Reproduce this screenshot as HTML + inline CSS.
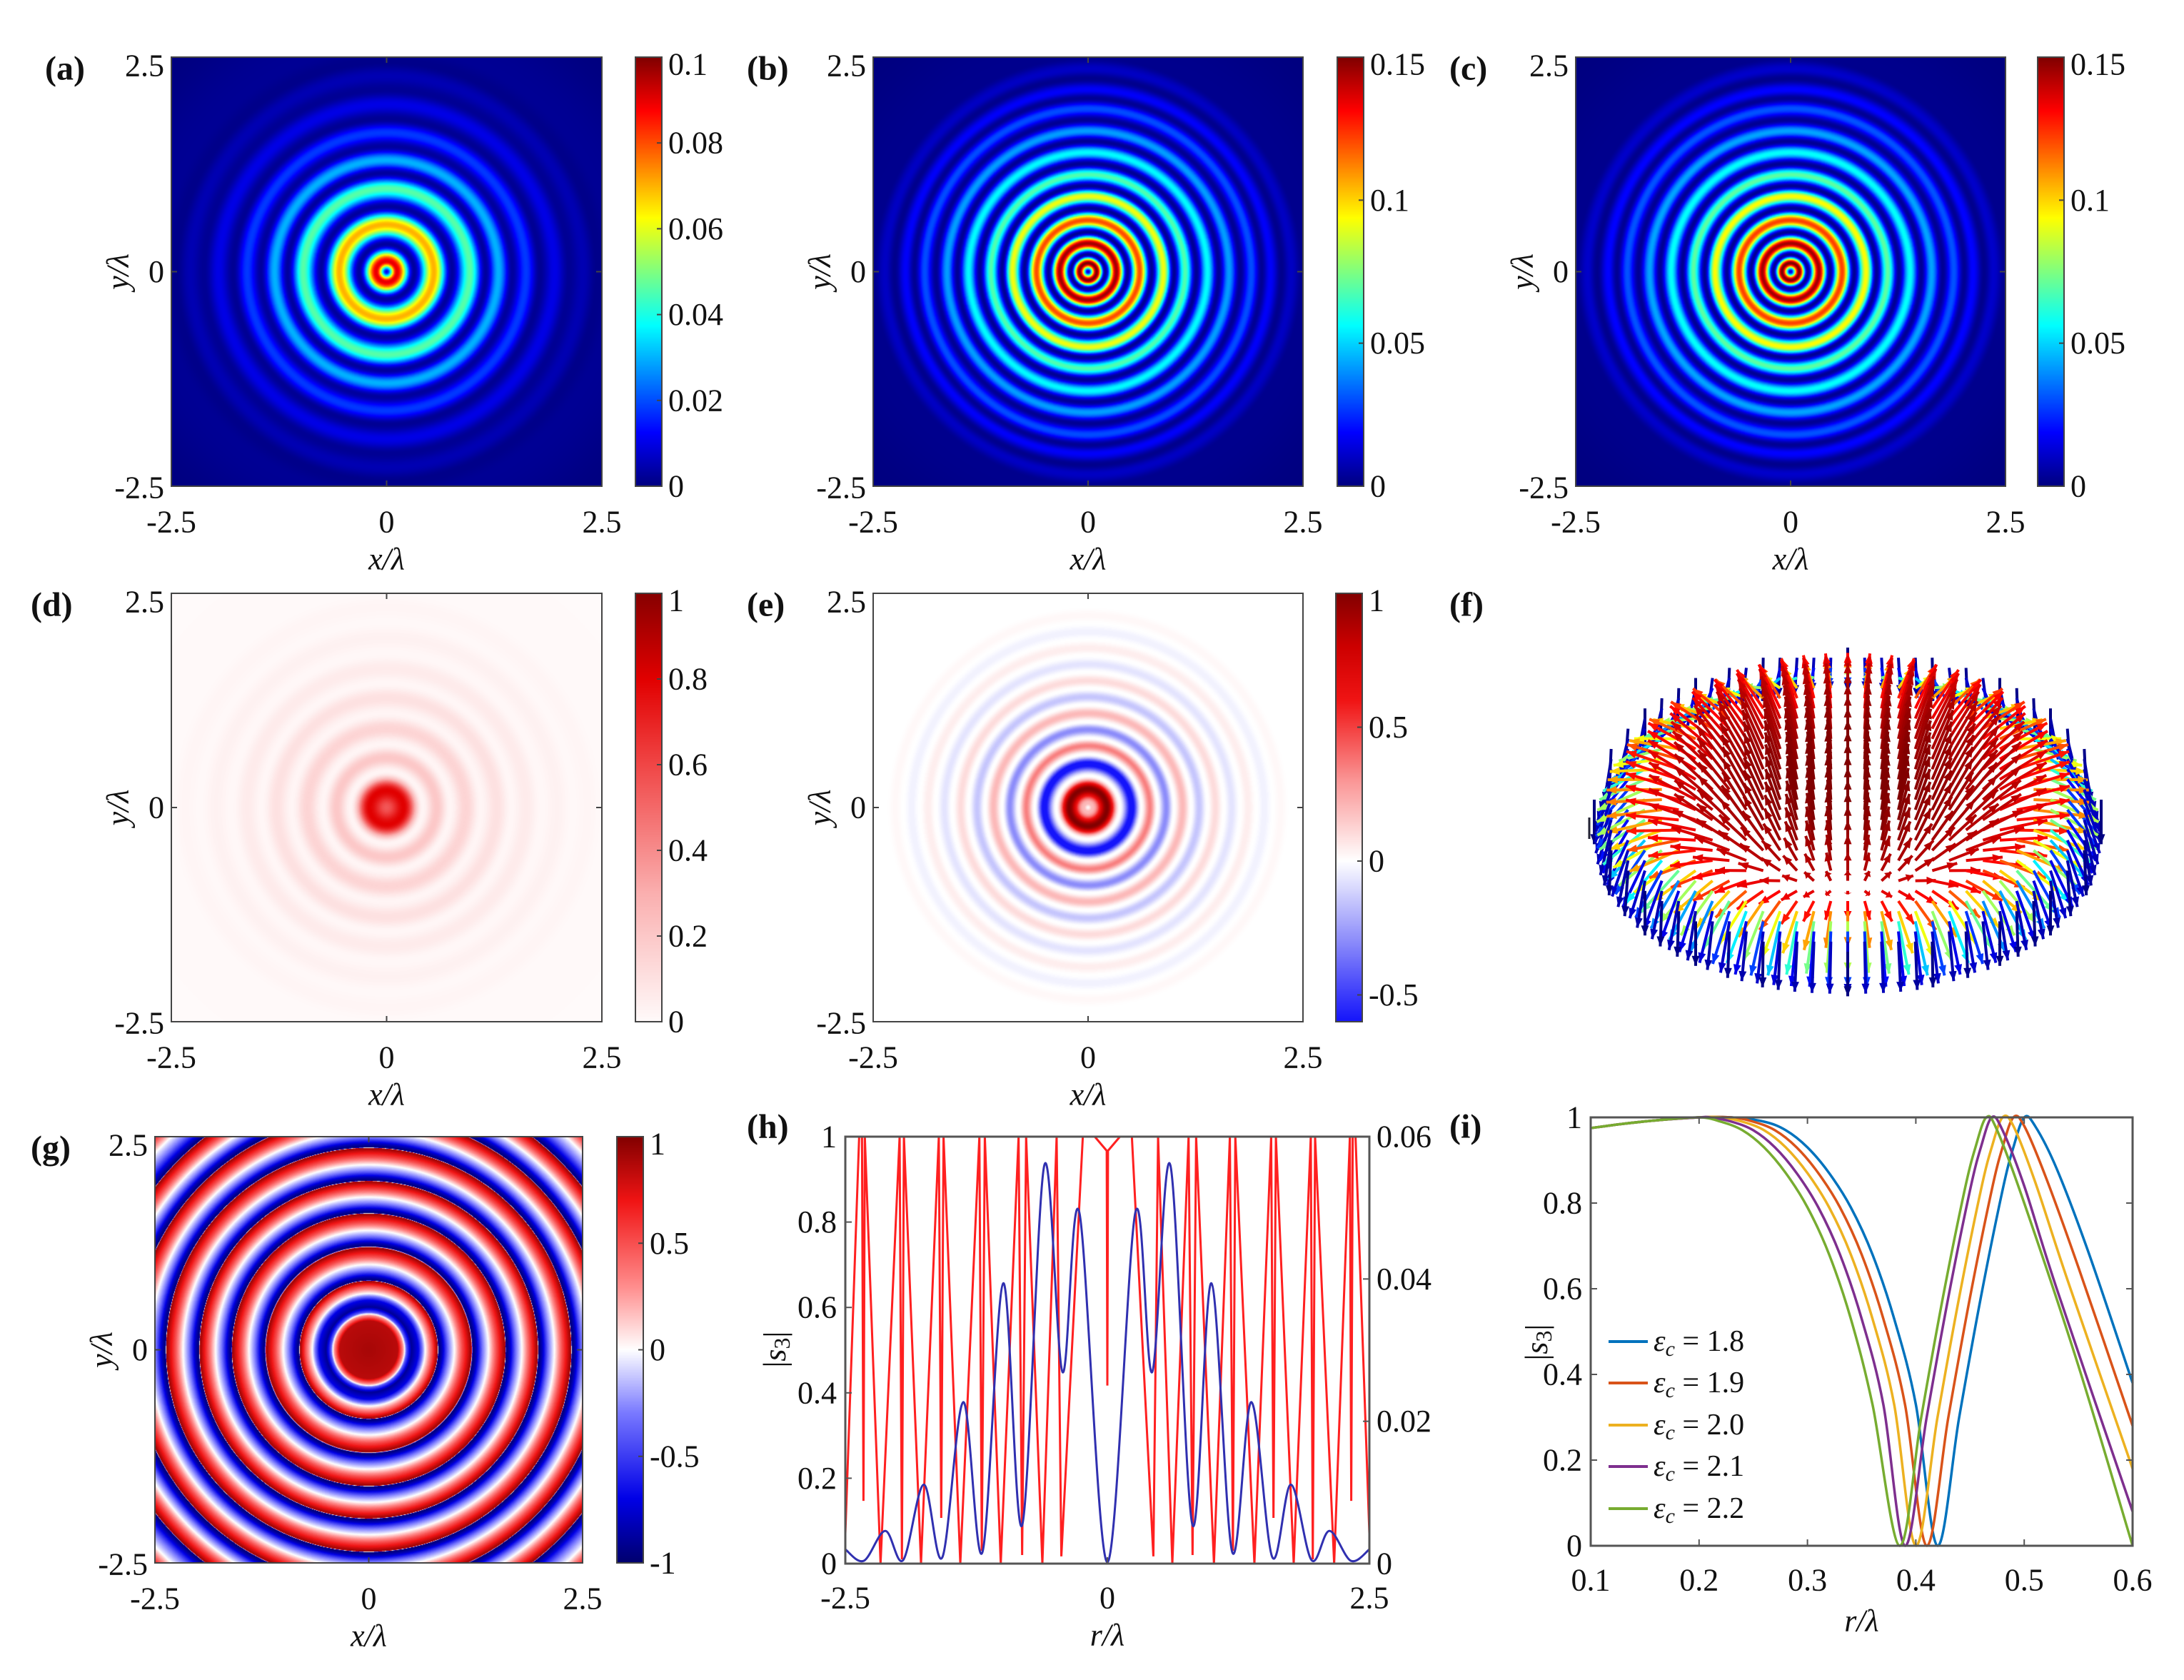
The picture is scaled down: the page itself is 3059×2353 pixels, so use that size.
<!DOCTYPE html>
<html><head><meta charset="utf-8">
<style>
body{margin:0;background:#fff;width:3059px;height:2353px;overflow:hidden;position:relative;font-family:"Liberation Serif","DejaVu Serif",serif}
canvas{position:absolute;z-index:1}
#fig{position:absolute;left:0;top:0;z-index:2}
#fig text{font-family:"Liberation Serif","DejaVu Serif",serif}
</style></head>
<body>
<svg id="fig" width="3059" height="2353"></svg>
<script>
// ---------- DATA ----------
const aR=[0,0.12,0.32,0.55,0.76,0.97,1.15,1.3,1.46,1.62,1.78,1.95,2.12,2.28,2.45,2.62,3.6];
const aV=[0.012,0.09,0.003,0.07,0.003,0.046,0.003,0.03,0.003,0.018,0.002,0.01,0.002,0.005,0.001,0.002,0];
const bR=[0,0.1,0.2,0.33,0.46,0.6,0.74,0.88,1.0,1.13,1.26,1.39,1.52,1.64,1.77,1.9,2.02,2.12,2.25,2.36,2.5,3.6];
const bV=[0.012,0.15,0.003,0.145,0.003,0.12,0.003,0.092,0.003,0.068,0.003,0.056,0.003,0.042,0.003,0.03,0.003,0.018,0.002,0.01,0.002,0];
const cR=[0,0.1,0.2,0.33,0.46,0.6,0.74,0.88,1.0,1.13,1.26,1.39,1.52,1.64,1.77,1.9,2.02,2.12,2.25,2.36,2.5,3.6];
const cV=[0.012,0.15,0.003,0.145,0.003,0.122,0.003,0.094,0.003,0.07,0.003,0.057,0.003,0.043,0.003,0.031,0.003,0.019,0.002,0.011,0.002,0];
const dR=[0,0.2,0.42,0.58,0.74,0.92,1.1,1.28,1.45,1.62,1.8,1.98,2.16,2.34,2.5,3.6];
const dV=[0.55,0.8,0.02,0.2,0.02,0.15,0.02,0.1,0.015,0.06,0.01,0.035,0.008,0.02,0.005,0];
const eR=[0,0.05,0.22,0.37,0.51,0.62,0.72,0.81,0.91,1.0,1.1,1.2,1.29,1.39,1.48,1.58,1.67,1.77,1.86,1.96,2.05,2.15,2.24,2.34,2.5,3.6];
const eV=[0.02,0.2,1.0,0,-0.65,0,0.35,0,-0.3,0,0.2,0,-0.15,0,0.1,0,-0.07,0,0.05,0,-0.035,0,0.02,0,0,0];
const gR=[0,0.34,0.4,0.42,0.44,0.5,0.58,0.66,0.74,0.805,
 0.815,0.86,0.93,1.0,1.09,1.2,
 1.215,1.26,1.33,1.4,1.49,1.595,
 1.605,1.65,1.72,1.79,1.88,1.975,
 1.985,2.03,2.1,2.17,2.26,2.365,
 2.375,2.42,2.49,2.56,2.65,2.75,
 2.76,2.81,2.88,2.95,3.04,3.14,
 3.15,3.2,3.3,3.4,3.5,3.6];
const gV=[0.9,0.85,0.3,0,-0.4,-0.9,-0.7,0,0.5,0.95,
 -1,-0.8,-0.3,0,0.5,0.95,
 -1,-0.8,-0.3,0,0.5,0.95,
 -1,-0.8,-0.3,0,0.5,0.95,
 -1,-0.8,-0.3,0,0.5,0.95,
 -1,-0.8,-0.3,0,0.5,0.95,
 -1,-0.8,-0.3,0,0.5,0.95,
 -1,-0.8,-0.3,0,0.5,0.95];
const aCbTicks=[0,0.02,0.04,0.06,0.08,0.1];
const aCbLabels=['0','0.02','0.04','0.06','0.08','0.1'];
const bCbTicks=[0,0.05,0.1,0.15];
const bCbLabels=['0','0.05','0.1','0.15'];
const dCbTicks=[0,0.2,0.4,0.6,0.8,1];
const dCbLabels=['0','0.2','0.4','0.6','0.8','1'];
const eCbTicks=[-0.5,0,0.5,1];
const eCbLabels=['-0.5','0','0.5','1'];
const gCbTicks=[-1,-0.5,0,0.5,1];
const gCbLabels=['-1','-0.5','0','0.5','1'];
const mapTicks=[-2.5,0,2.5];
const mapTickLabels=['-2.5','0','2.5'];
const fRho=[0,0.2,0.4,0.55,0.7,0.8,0.88,1];
const fTheta=[0,10,25,45,80,120,150,180];
const fColor=[1,1,0.97,0.94,0.85,0.55,0.12,0.0];
const hBlueR=[-2.5,-2.323,-2.119,-1.948,-1.751,-1.574,-1.374,-1.192,-0.993,-0.813,-0.601,-0.427,-0.268,0,0.268,0.427,0.601,0.813,0.993,1.192,1.374,1.574,1.751,1.948,2.119,2.323,2.5];
const hBlueV=[0.0020,0.0004,0.0046,0.0005,0.0111,0.0009,0.0227,0.0016,0.0394,0.0054,0.0560,0.0269,0.0494,0.0002,0.0494,0.0269,0.0560,0.0054,0.0394,0.0016,0.0227,0.0009,0.0111,0.0005,0.0046,0.0004,0.0020];
const hRedR=[-2.5,-2.368,-2.341,-2.327,-2.314,-2.164,-1.982,-1.96,-1.941,-1.778,-1.608,-1.585,-1.563,-1.403,-1.221,-1.198,-1.169,-1.017,-0.847,-0.813,-0.775,-0.62,-0.484,-0.439,-0.234,-0.12,-0.006,0,0.006,0.12,0.234,0.439,0.484,0.62,0.775,0.813,0.847,1.017,1.169,1.198,1.221,1.403,1.563,1.585,1.608,1.778,1.941,1.96,1.982,2.164,2.314,2.327,2.341,2.368,2.5];
const hRedV=[0.07,1,1,0.147,1,0,1,0.01,1,0,1,0.107,1,0,1,0.03,1,0,1,0.02,1,0,1,0.017,1,1,0.967,0.417,0.967,1,1,0.017,1,0,1,0.02,1,0,1,0.03,1,0,1,0.107,1,0,1,0.01,1,0,1,0.147,1,1,0.07];
const hLeftTicks=[0,0.2,0.4,0.6,0.8,1];
const hLeftLabels=['0','0.2','0.4','0.6','0.8','1'];
const hRightTicks=[0,0.02,0.04,0.06];
const hRightLabels=['0','0.02','0.04','0.06'];
const iNames=['1.8','1.9','2.0','2.1','2.2'];
const iColors=['#0072BD','#D95319','#EDB120','#7E2F8E','#77AC30'];
const iX18=[0.1,0.13,0.16,0.2,0.23,0.26,0.28,0.3,0.32,0.34,0.36,0.38,0.4,0.42,0.44,0.46,0.48,0.49,0.5,0.51,0.53,0.56,0.6];
const iY18=[0.975,0.985,0.993,1,1,0.99,0.97,0.93,0.87,0.79,0.68,0.53,0.33,0,0.3,0.58,0.83,0.93,1,0.98,0.88,0.68,0.38];
const iX19=[0.1,0.13,0.16,0.2,0.23,0.25,0.27,0.29,0.31,0.33,0.35,0.37,0.39,0.41,0.43,0.45,0.47,0.48,0.49,0.5,0.52,0.55,0.6];
const iY19=[0.975,0.985,0.993,1,1,0.99,0.97,0.93,0.87,0.79,0.68,0.53,0.33,0,0.3,0.58,0.83,0.93,1,0.98,0.86,0.65,0.28];
const iX20=[0.1,0.13,0.16,0.2,0.22,0.24,0.26,0.28,0.3,0.32,0.34,0.36,0.38,0.4,0.42,0.44,0.46,0.47,0.48,0.49,0.51,0.54,0.6];
const iY20=[0.975,0.985,0.993,1,1,0.99,0.97,0.93,0.87,0.79,0.68,0.53,0.33,0,0.3,0.58,0.83,0.93,1,0.98,0.85,0.62,0.18];
const iX21=[0.1,0.13,0.16,0.2,0.21,0.23,0.25,0.27,0.29,0.31,0.33,0.35,0.37,0.39,0.41,0.43,0.45,0.46,0.47,0.48,0.5,0.53,0.6];
const iY21=[0.975,0.985,0.993,1,1,0.99,0.97,0.93,0.87,0.79,0.68,0.53,0.33,0,0.3,0.58,0.83,0.93,1,0.97,0.84,0.6,0.08];
const iX22=[0.1,0.13,0.16,0.2,0.22,0.24,0.26,0.28,0.3,0.32,0.34,0.36,0.385,0.405,0.425,0.445,0.455,0.465,0.475,0.5,0.55,0.6];
const iY22=[0.975,0.985,0.993,1,0.99,0.97,0.93,0.87,0.79,0.68,0.53,0.33,0,0.3,0.58,0.83,0.93,1,0.97,0.8,0.42,0];
const iXTicks=[0.1,0.2,0.3,0.4,0.5,0.6];
const iXLabels=['0.1','0.2','0.3','0.4','0.5','0.6'];
const iYTicks=[0,0.2,0.4,0.6,0.8,1];
const iYLabels=['0','0.2','0.4','0.6','0.8','1'];

// ---------- HELPERS ----------
const NS='http://www.w3.org/2000/svg';
const svg=document.getElementById('fig');
function mk(tag,attrs,parent){const e=document.createElementNS(NS,tag);for(const k in attrs)e.setAttribute(k,attrs[k]);(parent||svg).appendChild(e);return e;}
function label(x,y,s,anchor,name,extra){
  const t=mk('text',Object.assign({x:x,y:y,'font-size':44,'text-anchor':anchor||'middle','dominant-baseline':'central',fill:'#111'},extra||{}));
  t.textContent=s;
  
  
  return t;
}
function clamp(v){return Math.max(0,Math.min(1,v));}
function jet(t){t=clamp(t);return [255*clamp(1.5-Math.abs(4*t-3)),255*clamp(1.5-Math.abs(4*t-2)),255*clamp(1.5-Math.abs(4*t-1))];}
function stopsMap(st){return function(v){
  if(v<=st[0][0])return st[0].slice(1);
  for(let i=0;i<st.length-1;i++){if(v<=st[i+1][0]){const t=(v-st[i][0])/(st[i+1][0]-st[i][0]);return [0,1,2].map(k=>st[i][k+1]+(st[i+1][k+1]-st[i][k+1])*t);}}
  return st[st.length-1].slice(1);};}
const mapD=stopsMap([[0,255,250,250],[0.3,250,175,175],[0.6,240,70,70],[0.8,225,0,0],[1,135,0,0]]);
const mapE=stopsMap([[-0.6,20,20,250],[-0.3,140,140,250],[0,255,255,255],[0.3,250,150,150],[0.6,240,20,20],[0.8,205,0,0],[1,130,0,0]]);
const mapG=stopsMap([[-1,0,0,110],[-0.7,0,0,230],[-0.3,120,120,255],[0,255,255,255],[0.3,255,140,140],[0.7,240,20,20],[1,130,0,0]]);
function buildLut(R,V,smooth){
  const n=1801,lut=new Float32Array(n);let k=0;
  for(let i=0;i<n;i++){const r=i*0.002;
    while(k<R.length-2&&r>R[k+1])k++;
    if(r>=R[R.length-1]){lut[i]=V[V.length-1];continue;}
    let t=clamp((r-R[k])/(R[k+1]-R[k]));
    if(smooth)t=(1-Math.cos(Math.PI*t))/2;
    lut[i]=V[k]+(V[k+1]-V[k])*t;}
  return lut;}
function colorOf(p,v){return p.map==='jet'?jet((v-p.vmin)/(p.vmax-p.vmin)):p.map(v);}

// ---------- HEATMAP PANELS ----------
const heatPanels=[
 {id:'a',x:240,y:80,w:603,h:601,R:aR,V:aV,map:'jet',vmin:0,vmax:0.1,smooth:true,cbx:890,cbT:aCbTicks,cbL:aCbLabels,lab:'(a)',lx:63},
 {id:'b',x:1223,y:80,w:602,h:601,R:bR,V:bV,map:'jet',vmin:0,vmax:0.15,smooth:true,cbx:1873,cbT:bCbTicks,cbL:bCbLabels,lab:'(b)',lx:1046},
 {id:'c',x:2207,y:80,w:602,h:601,R:cR,V:cV,map:'jet',vmin:0,vmax:0.15,smooth:true,cbx:2854,cbT:bCbTicks,cbL:bCbLabels,lab:'(c)',lx:2030},
 {id:'d',x:240,y:831,w:603,h:600,R:dR,V:dV,map:mapD,vmin:0,vmax:1,smooth:true,cbx:890,cbT:dCbTicks,cbL:dCbLabels,lab:'(d)',lx:43},
 {id:'e',x:1223,y:831,w:602,h:600,R:eR,V:eV,map:mapE,vmin:-0.6,vmax:1,smooth:true,cbx:1871,cbT:eCbTicks,cbL:eCbLabels,lab:'(e)',lx:1046},
 {id:'g',x:217,y:1592,w:599,h:597,R:gR,V:gV,map:mapG,vmin:-1,vmax:1,smooth:false,cbx:864,cbT:gCbTicks,cbL:gCbLabels,lab:'(g)',lx:43}
];
heatPanels.forEach(p=>{
  const cv=document.createElement('canvas');cv.width=p.w;cv.height=p.h;
  cv.style.left=p.x+'px';cv.style.top=p.y+'px';
  
  
  document.body.appendChild(cv);
  const ctx=cv.getContext('2d');const img=ctx.createImageData(p.w,p.h);
  const lut=buildLut(p.R,p.V,p.smooth);
  for(let j=0;j<p.h;j++){const yy=2.5-5*(j+0.5)/p.h;
    for(let i=0;i<p.w;i++){const xx=-2.5+5*(i+0.5)/p.w;
      const r=Math.sqrt(xx*xx+yy*yy);const v=lut[Math.min(1800,Math.round(r/0.002))];
      const c=colorOf(p,v);const o=(j*p.w+i)*4;
      img.data[o]=c[0];img.data[o+1]=c[1];img.data[o+2]=c[2];img.data[o+3]=255;}}
  ctx.putImageData(img,0,0);
  const cb=document.createElement('canvas');cb.width=37;cb.height=p.h;
  cb.style.left=p.cbx+'px';cb.style.top=p.y+'px';
  
  
  document.body.appendChild(cb);
  const cc=cb.getContext('2d');
  for(let j=0;j<p.h;j++){const v=p.vmax-(j+0.5)/p.h*(p.vmax-p.vmin);const c=colorOf(p,v);
    cc.fillStyle='rgb('+Math.round(c[0])+','+Math.round(c[1])+','+Math.round(c[2])+')';cc.fillRect(0,j,37,1);}
  const fr=mk('rect',{x:p.x,y:p.y,width:p.w,height:p.h,fill:'none',stroke:'#444','stroke-width':2});
  
  
  const cbf=mk('rect',{x:p.cbx,y:p.y,width:37,height:p.h,fill:'none',stroke:'#444','stroke-width':2});
  
  
  const sx=v=>p.x+(v+2.5)/5*p.w, sy=v=>p.y+(2.5-v)/5*p.h;
  mapTicks.forEach((v,k)=>{
    mk('line',{x1:sx(v),y1:p.y+p.h,x2:sx(v),y2:p.y+p.h-8,stroke:'#444','stroke-width':2});
    mk('line',{x1:sx(v),y1:p.y,x2:sx(v),y2:p.y+8,stroke:'#444','stroke-width':2});
    mk('line',{x1:p.x,y1:sy(v),x2:p.x+8,y2:sy(v),stroke:'#444','stroke-width':2});
    mk('line',{x1:p.x+p.w,y1:sy(v),x2:p.x+p.w-8,y2:sy(v),stroke:'#444','stroke-width':2});
    label(sx(v),p.y+p.h+50,mapTickLabels[k],'middle','x-tick-label-'+p.id);
    label(p.x-10,sy(v)+(k===2?12:(k===0?2:0)),mapTickLabels[k],'end','y-tick-label-'+p.id);
  });
  const cy=v=>p.y+(p.vmax-v)/(p.vmax-p.vmin)*p.h;
  p.cbT.forEach((v,k)=>{
    mk('line',{x1:p.cbx+37,y1:cy(v),x2:p.cbx+30,y2:cy(v),stroke:'#444','stroke-width':2});
    label(p.cbx+46,cy(v)+(k===p.cbT.length-1&&v===p.vmax?10:0),p.cbL[k],'start','colorbar-tick-label-'+p.id);
  });
  label(p.x+p.w/2,p.y+p.h+102,'x/λ','middle','x-axis-title-'+p.id,{'font-style':'italic'});
  label(0,0,'y/λ','middle','y-axis-title-'+p.id,{'font-style':'italic',transform:'translate('+(p.x-75)+','+(p.y+p.h/2)+') rotate(-90)'});
  label(p.lx,p.y+16,p.lab,'start','panel-label-'+p.id,{'font-weight':'bold','font-size':48});
});

// ---------- PANEL (f) quiver ----------
label(2030,847,'(f)','start','panel-label-f',{'font-weight':'bold','font-size':48});
const fg=mk('g',{});


function interp(X,Y,x){if(x<=X[0])return Y[0];for(let i=0;i<X.length-1;i++){if(x<=X[i+1]){const t=(x-X[i])/(X[i+1]-X[i]);return Y[i]+(Y[i+1]-Y[i])*t;}}return Y[Y.length-1];}
const F_N=15,F_CX=2588,F_CY=1120,F_S=355,F_SE=0.6,F_CE=0.8,F_L=78;
for(let j=F_N;j>=-F_N;j--){for(let i=-F_N;i<=F_N;i++){
  const X=i/F_N,Y=j/F_N,rho=Math.hypot(X,Y);if(rho>1.0001)continue;
  const th=interp(fRho,fTheta,rho)*Math.PI/180,ph=Math.atan2(Y,X);
  const vx=Math.sin(th)*Math.cos(ph),vy=Math.sin(th)*Math.sin(ph),vz=Math.cos(th);
  const x0=F_CX+F_S*X,y0=F_CY-F_S*F_SE*Y;
  const dx=F_L*vx,dy=-F_L*(vy*F_SE+vz*F_CE);
  const c=jet(interp(fRho,fColor,rho));const col='rgb('+c.map(Math.round).join(',')+')';
  const len=Math.hypot(dx,dy);
  const ar=mk('g',{},fg);
  
  
  mk('line',{x1:x0,y1:y0,x2:x0+dx,y2:y0+dy,stroke:col,'stroke-width':4},ar);
  if(len>4){const ux=dx/len,uy=dy/len,hl=Math.min(14,len*0.45);
    const bx=x0+dx-ux*hl,by=y0+dy-uy*hl;
    mk('polygon',{points:(x0+dx)+','+(y0+dy)+' '+(bx-uy*5.5)+','+(by+ux*5.5)+' '+(bx+uy*5.5)+','+(by-ux*5.5),fill:col},ar);}
}}
const fm=mk('line',{x1:2226,y1:1145,x2:2226,y2:1175,stroke:'#223','stroke-width':3});



function crPath(pts){let d='M'+pts[0][0]+','+pts[0][1];
  for(let i=0;i<pts.length-1;i++){const p0=pts[Math.max(0,i-1)],p1=pts[i],p2=pts[i+1],p3=pts[Math.min(pts.length-1,i+2)];
    d+=' C'+(p1[0]+(p2[0]-p0[0])/6)+','+(p1[1]+(p2[1]-p0[1])/6)+' '+(p2[0]-(p3[0]-p1[0])/6)+','+(p2[1]-(p3[1]-p1[1])/6)+' '+p2[0]+','+p2[1];}
  return d;}

// ---------- PANEL (h) ----------
const H={x:1184,y:1592,w:734,h:598};
const hx=v=>H.x+(v+2.5)/5*H.w, hyL=v=>H.y+H.h-v*H.h, hyR=v=>H.y+H.h-v/0.06*H.h;
const hred=mk('polyline',{points:hRedR.map((r,k)=>hx(r)+','+hyL(hRedV[k])).join(' '),fill:'none',stroke:'#ff2020','stroke-width':3});


const hblue=mk('path',{d:crPath(hBlueR.map((r,k)=>[hx(r),hyR(hBlueV[k])])),fill:'none',stroke:'#3030b0','stroke-width':3});


const hf=mk('rect',{x:H.x,y:H.y,width:H.w,height:H.h,fill:'none',stroke:'#555','stroke-width':3});


hLeftTicks.forEach((v,k)=>{mk('line',{x1:H.x,y1:hyL(v),x2:H.x+9,y2:hyL(v),stroke:'#555','stroke-width':2});
  label(H.x-12,hyL(v),hLeftLabels[k],'end','h-left-tick-label');});
hRightTicks.forEach((v,k)=>{mk('line',{x1:H.x+H.w,y1:hyR(v),x2:H.x+H.w-9,y2:hyR(v),stroke:'#555','stroke-width':2});
  label(H.x+H.w+10,hyR(v),hRightLabels[k],'start','h-right-tick-label');});
mapTicks.forEach((v,k)=>{mk('line',{x1:hx(v),y1:H.y+H.h,x2:hx(v),y2:H.y+H.h-9,stroke:'#555','stroke-width':2});
  label(hx(v),H.y+H.h+48,mapTickLabels[k],'middle','h-x-tick-label');});
label(H.x+H.w/2,H.y+H.h+100,'r/λ','middle','h-x-axis-title',{'font-style':'italic'});
const hyt=mk('text',{transform:'translate(1085,1890) rotate(-90)','font-size':44,'text-anchor':'middle','dominant-baseline':'central',fill:'#111'});
hyt.innerHTML='|<tspan font-style="italic">s</tspan><tspan font-size="32" dy="10">3</tspan><tspan dy="-10">|</tspan>';


label(1046,1578,'(h)','start','panel-label-h',{'font-weight':'bold','font-size':48});

// ---------- PANEL (i) ----------
const I={x:2228,y:1565,w:759,h:600};
const ix=v=>I.x+(v-0.1)/0.5*I.w, iy=v=>I.y+I.h-v*I.h;
const iXs=[iX18,iX19,iX20,iX21,iX22], iYs=[iY18,iY19,iY20,iY21,iY22];
iXs.forEach((X,s)=>{const pl=mk('path',{d:crPath(X.map((x,k)=>[ix(x),iy(iYs[s][k])])),fill:'none',stroke:iColors[s],'stroke-width':3.5,'stroke-linejoin':'round'});
  
  });
const ifr=mk('rect',{x:I.x,y:I.y,width:I.w,height:I.h,fill:'none',stroke:'#555','stroke-width':3});


iXTicks.forEach((v,k)=>{mk('line',{x1:ix(v),y1:I.y+I.h,x2:ix(v),y2:I.y+I.h-9,stroke:'#555','stroke-width':2});
  mk('line',{x1:ix(v),y1:I.y,x2:ix(v),y2:I.y+9,stroke:'#555','stroke-width':2});
  label(ix(v),I.y+I.h+48,iXLabels[k],'middle','i-x-tick-label');});
iYTicks.forEach((v,k)=>{mk('line',{x1:I.x,y1:iy(v),x2:I.x+9,y2:iy(v),stroke:'#555','stroke-width':2});
  mk('line',{x1:I.x+I.w,y1:iy(v),x2:I.x+I.w-9,y2:iy(v),stroke:'#555','stroke-width':2});
  label(I.x-12,iy(v),iYLabels[k],'end','i-y-tick-label');});
label(I.x+I.w/2,I.y+I.h+105,'r/λ','middle','i-x-axis-title',{'font-style':'italic'});
const iyt=mk('text',{transform:'translate(2152,1880) rotate(-90)','font-size':44,'text-anchor':'middle','dominant-baseline':'central',fill:'#111'});
iyt.innerHTML='|<tspan font-style="italic">s</tspan><tspan font-size="32" dy="10">3</tspan><tspan dy="-10">|</tspan>';


const legY=[1879,1937,1996,2054,2113];
iNames.forEach((n,s)=>{
  const lg=mk('g',{});
  
  
  mk('line',{x1:2253,y1:legY[s],x2:2308,y2:legY[s],stroke:iColors[s],'stroke-width':4},lg);
  const t=mk('text',{x:2316,y:legY[s],'font-size':42,'dominant-baseline':'central',fill:'#111'},lg);
  t.innerHTML='<tspan font-style="italic">ε</tspan><tspan font-style="italic" font-size="30" dy="10">c</tspan><tspan dy="-10"> = '+n+'</tspan>';
});
label(2030,1578,'(i)','start','panel-label-i',{'font-weight':'bold','font-size':48});
</script>
</body></html>
